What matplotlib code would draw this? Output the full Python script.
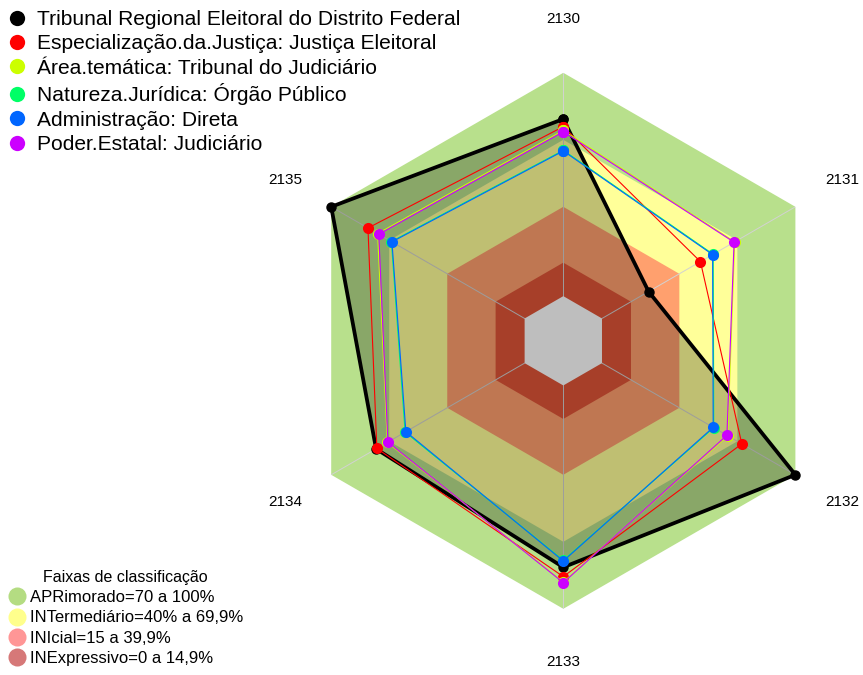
import numpy as np
import matplotlib.pyplot as plt
from matplotlib.lines import Line2D

plt.rcParams['font.family'] = ['Liberation Sans', 'DejaVu Sans']

# eixos do radar (anos)
anos = ['2130', '2131', '2132', '2133', '2134', '2135']

# series (valores em %)
nomes = ['Tribunal Regional Eleitoral do Distrito Federal',
         'Especialização.da.Justiça: Justiça Eleitoral',
         'Área.temática: Tribunal do Judiciário',
         'Natureza.Jurídica: Órgão Público',
         'Administração: Direta',
         'Poder.Estatal: Judiciário']
cores = ['#000000', '#FF0000', '#CCFF00', '#00FF66', '#0066FF', '#CC00FF']

tre_df = [79.3, 24.1, 100, 81.4, 76.8, 100]
justica_eleitoral = [75.9, 50.9, 72.3, 85.6, 76.4, 81.0]
tribunal_judiciario = [74.2, 68.6, 65.0, 88.0, 71.0, 76.0]
orgao_publico = [65.3, 57.5, 57.8, 78.3, 61.8, 68.9]
adm_direta = [65.0, 57.2, 57.5, 78.6, 61.4, 68.6]
judiciario = [73.6, 68.3, 64.6, 88.3, 70.7, 75.4]
valores = [tre_df, justica_eleitoral, tribunal_judiciario, orgao_publico, adm_direta, judiciario]

# faixas de classificacao
faixas_lim = [100, 70, 40, 15]
faixas_cor = ['#B8E08C', '#FFFF99', '#FFA06E', '#E05538']
faixas_legenda = ['APRimorado=70 a 100%', 'INTermediário=40% a 69,9%',
                  'INIcial=15 a 39,9%', 'INExpressivo=0 a 14,9%']
faixas_cor_leg = ['#B4DC82', '#FFFF8C', '#FF9696', '#D67878']

fig = plt.figure(figsize=(8.63, 6.75), dpi=100)
cx, cy, R = 563.3 / 863, 1 - 340.8 / 675, 268.0
ax = fig.add_axes([cx - R / 863, cy - R / 675, 2 * R / 863, 2 * R / 675], projection='polar')
ax.set_theta_zero_location('N')
ax.set_theta_direction(-1)
ax.set_ylim(-20, 100)
ax.axis('off')

theta = np.linspace(0, 2 * np.pi, len(anos), endpoint=False)
th = np.append(theta, theta[0])

for lim, cor in zip(faixas_lim, faixas_cor):
    ax.fill(th, [lim] * len(th), color=cor, lw=0, zorder=1)
for t in theta:
    ax.plot([t, t], [0, 100], color='#D2D2D2', lw=0.7, zorder=2)

for i, (vals, cor) in enumerate(zip(valores, cores)):
    v = np.append(vals, vals[0])
    if i == 0:
        ax.fill(th, v, color='black', alpha=0.25, lw=0, zorder=3)
        ax.plot(th, v, color=cor, lw=2.7, marker='o', ms=6.5, zorder=4, clip_on=False)
    else:
        ax.plot(th, v, color=cor, lw=0.8, marker='o', ms=8, mec='none', zorder=4 + i, clip_on=False)

# centro cinza por cima
ax.fill(th, [0] * len(th), color='#BEBEBE', lw=0, zorder=3.5)

for t, ano in zip(theta, anos):
    ax.text(t, 124.0, ano, ha='center', va='center', fontsize=11)

# legenda das series
h1 = [Line2D([], [], ls='none', marker='o', ms=11, color=c, mec='none') for c in cores]
fig.legend(h1, nomes, loc='upper left', bbox_to_anchor=(-0.009, 1.004), frameon=False,
           fontsize=15.1, handletextpad=0.35, labelspacing=0.26, handlelength=1.2,
           borderaxespad=0.2)

# legenda das faixas
h2 = [Line2D([], [], ls='none', marker='o', ms=13, color=c, mec='none') for c in faixas_cor_leg]
fig.legend(h2, faixas_legenda, loc='lower left', bbox_to_anchor=(-0.004, -0.004), frameon=False,
           fontsize=12, title='Faixas de classificação', title_fontsize=11.5,
           handletextpad=0.2, labelspacing=0.32, handlelength=1.1, borderaxespad=0.3)

fig.savefig('out.png', dpi=100)
